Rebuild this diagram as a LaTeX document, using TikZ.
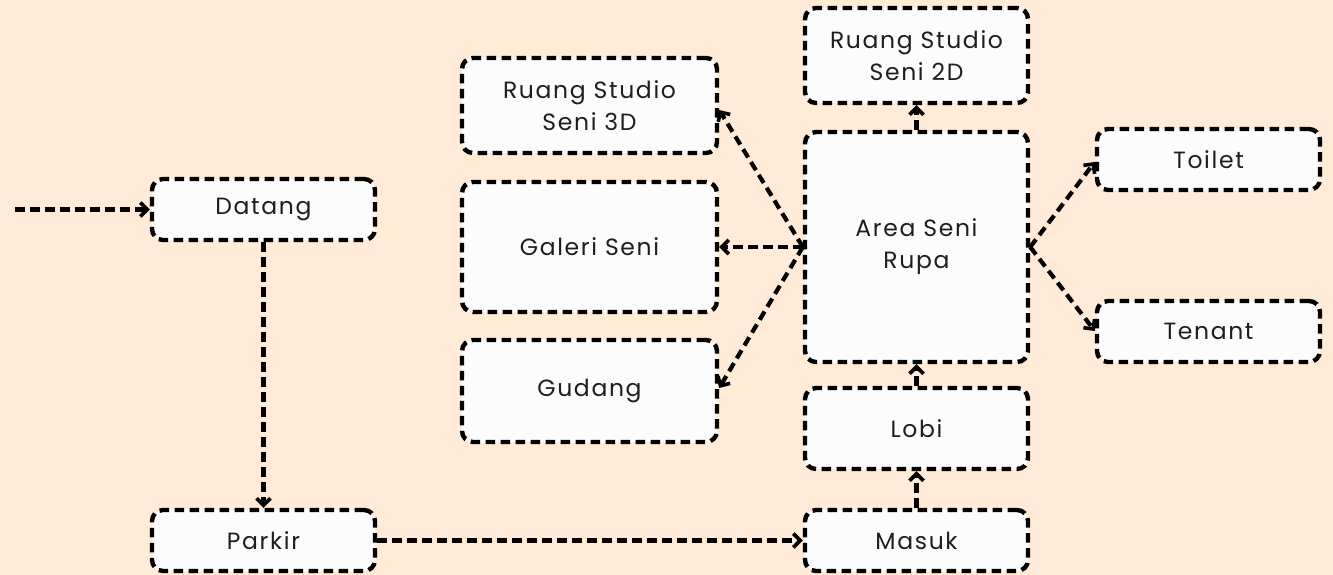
\documentclass[tikz,border=0pt]{standalone}
\usepackage{fontspec}
\setmainfont[LetterSpace=7]{Poppins}
\usetikzlibrary{arrows.meta}
\definecolor{bgpeach}{HTML}{FFEBD8}
\definecolor{boxfill}{HTML}{FCFCFC}
\definecolor{ink}{HTML}{1E1E1E}
\begin{document}
\begin{tikzpicture}[x=1pt,y=-1pt,
  room/.style={draw=black, fill=boxfill, line width=4.4pt, dash pattern=on 9.5pt off 5.5pt,
    rounded corners=11pt, minimum width=223pt, inner sep=0pt, align=center,
    font=\fontsize{23.5}{32}\selectfont, text=ink},
  flow/.style={draw=black, line width=4.2pt, dash pattern=on 9.5pt off 5.5pt,
    -{Straight Barb[length=7pt,width=14pt,line width=3.6pt]}}]
  \fill[bgpeach] (0,0) rectangle (1333,575);
  \useasboundingbox (0,0) rectangle (1333,575);

  % rooms
  \node[room, minimum height=61pt] (datang) at (263.5,209.5) {Datang};
  \node[room, minimum height=61pt] (parkir) at (263.5,540.5) {Parkir};
  \node[room, minimum height=61pt] (masuk) at (916.5,540.5) {Masuk};
  \node[room, minimum height=81pt] (lobi) at (916.5,428.5) {Lobi};
  \node[room, minimum height=230pt] (area) at (916.5,247) {Area Seni\\Rupa};
  \node[room, minimum height=95pt] (s2d) at (916.5,55.5) {Ruang Studio\\Seni 2D};
  \node[room, minimum width=255pt, minimum height=95pt] (s3d) at (589.5,105.5) {Ruang Studio\\Seni 3D};
  \node[room, minimum width=255pt, minimum height=130pt] (galeri) at (589.5,247) {Galeri Seni};
  \node[room, minimum width=255pt, minimum height=102pt] (gudang) at (589.5,391) {Gudang};
  \node[room, minimum height=61pt] (toilet) at (1208.5,159.5) {Toilet};
  \node[room, minimum height=61pt] (tenant) at (1208.5,331.5) {Tenant};

  % entry path
  \coordinate (start) at (15,209.5);
  \draw[flow] (start) -- (datang.west);
  \draw[flow] (datang.south) -- (parkir.north);
  \draw[flow] (parkir.east) -- (masuk.west);
  \draw[flow] (masuk.north) -- (lobi.south);
  \draw[flow] (lobi.north) -- (area.south);
  \draw[flow] (area.north) -- (s2d.south);

  % from the art area to the side rooms
  \draw[flow] (area.west) -- (s3d.east |- 0,110);
  \draw[flow] (area.west) -- (galeri.east);
  \draw[flow] (area.west) -- (gudang.east |- 0,388);
  \draw[flow] (area.east) -- (toilet.west |- 0,162);
  \draw[flow] (area.east) -- (tenant.west |- 0,331);
\end{tikzpicture}
\end{document}
